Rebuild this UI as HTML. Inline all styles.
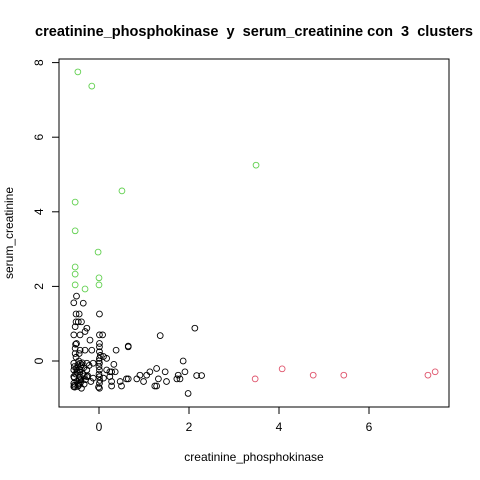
<!DOCTYPE html>
<html><head><meta charset="utf-8"><style>
body{margin:0;background:#fff}
svg{display:block;font-family:"Liberation Sans",sans-serif}
</style></head><body>
<svg id="c" width="480" height="480">
<text x="35" y="36" font-size="15" font-weight="bold" textLength="438" lengthAdjust="spacingAndGlyphs" style="white-space:pre" xml:space="preserve">creatinine_phosphokinase  y  serum_creatinine con  3  clusters</text>
<rect x="59" y="59" width="390" height="348" fill="none" stroke="#000"/>
<text x="254" y="461" text-anchor="middle" font-size="12">creatinine_phosphokinase</text>
<text transform="translate(13,233) rotate(-90)" text-anchor="middle" font-size="12">serum_creatinine</text>
<g id="axes"></g><g id="pts"></g>
</svg>
<script>
const xTicks=[0,2,4,6];
const yTicks=[0,2,4,6,8];
const redX=[3.47,4.07,4.76,5.44,7.31,7.47];
const redY=[-0.48,-0.21,-0.38,-0.38,-0.38,-0.29];
const greenX=[-0.47,-0.16,3.49,0.51,-0.53,-0.53,-0.02,-0.53,-0.53,0,0,-0.53,-0.31];
const greenY=[7.75,7.37,5.25,4.56,4.26,3.49,2.92,2.52,2.33,2.23,2.04,2.04,1.93];
const blackX=[-0.56,-0.35,-0.50,-0.51,-0.44,0.01,-0.51,-0.46,-0.53,-0.39,-0.27,-0.56,-0.42,-0.31,0.01,0.08,1.36,2.13,-0.50,0.01,0.01,-0.20,-0.53,-0.42,-0.31,-0.16,0.01,0.65,0.65,0.38,0.10,0.17,0.01,1.87,-0.56,-0.42,-0.27,-0.13,0.01,0.33,1.28,1.13,1.47,1.91,-0.56,-0.42,-0.27,0.01,0.17,0.24,0.28,0.36,0.91,1.06,1.76,2.17,2.28,-0.56,-0.42,-0.27,-0.13,0.01,0.10,0.24,0.61,0.65,0.84,1.32,1.73,1.80,-0.56,-0.42,0.01,0.28,0.47,0.99,1.50,-0.56,-0.39,0.01,0.28,0.50,1.24,1.28,1.98,
-0.55,-0.52,-0.49,-0.47,-0.45,-0.43,-0.40,-0.37,-0.33,-0.55,-0.50,-0.46,-0.41,-0.36,-0.30,-0.55,-0.51,-0.48,-0.44,-0.38,-0.33,-0.25,-0.53,-0.49,-0.45,-0.40,-0.34,0.0,0.0,0.02,-0.01,0.03,0.0,-0.54,-0.47,-0.52,-0.44,-0.22,-0.18];
const blackY=[1.56,1.55,1.74,1.26,1.26,1.26,1.05,1.05,0.92,1.05,0.88,0.70,0.70,0.79,0.70,0.70,0.68,0.88,0.47,0.47,0.38,0.56,0.34,0.29,0.29,0.29,0.25,0.40,0.38,0.29,0.12,0.07,0.07,0,-0.06,-0.06,-0.06,-0.06,-0.06,-0.09,-0.20,-0.29,-0.29,-0.29,-0.24,-0.24,-0.24,-0.24,-0.24,-0.29,-0.29,-0.29,-0.38,-0.38,-0.38,-0.39,-0.39,-0.42,-0.42,-0.42,-0.46,-0.42,-0.46,-0.42,-0.48,-0.48,-0.48,-0.48,-0.48,-0.48,-0.60,-0.60,-0.60,-0.55,-0.55,-0.55,-0.55,-0.69,-0.73,-0.73,-0.67,-0.67,-0.67,-0.67,-0.87,
-0.15,-0.35,-0.55,-0.10,-0.65,-0.30,-0.50,-0.05,-0.40,-0.45,-0.20,-0.60,-0.15,-0.35,-0.50,-0.65,0.10,-0.30,-0.50,-0.10,-0.62,-0.40,0.20,-0.25,0.0,-0.55,-0.18,-0.15,-0.35,-0.52,-0.70,0.15,0.0,-0.70,-0.68,0.45,0.20,-0.12,-0.55];
const X=v=>99+(v-0)*45, Y=v=>361-v*37.3;
const NS='http://www.w3.org/2000/svg';
const ax=document.getElementById('axes'), pts=document.getElementById('pts');
function mk(t,a,p){const e=document.createElementNS(NS,t);for(const k in a)e.setAttribute(k,a[k]);p.appendChild(e);return e;}
xTicks.forEach(t=>{
  const l=mk('line',{x1:X(t),x2:X(t),y1:407,y2:414,stroke:'#000'},ax);
  
  
  const tx=mk('text',{x:X(t),y:431,'text-anchor':'middle','font-size':12},ax);tx.textContent=t;
  
  
});
mk('line',{x1:X(0),x2:X(6),y1:407,y2:407,stroke:'#000'},ax);
yTicks.forEach(t=>{
  const l=mk('line',{x1:52,x2:59,y1:Y(t),y2:Y(t),stroke:'#000'},ax);
  
  
  const tx=mk('text',{transform:`translate(43,${Y(t)}) rotate(-90)`,'text-anchor':'middle','font-size':12},ax);tx.textContent=t;
  
  
});
function draw(xs,ys,col,name){xs.forEach((x,i)=>{
  const c=mk('circle',{cx:X(x),cy:Y(ys[i]),r:2.9,fill:'none',stroke:col,'stroke-width':0.9},pts);
  
  
});}
draw(blackX,blackY,'#000','point-cluster-1');
draw(redX,redY,'#DF536B','point-cluster-2');
draw(greenX,greenY,'#61D04F','point-cluster-3');
</script>
</body></html>
